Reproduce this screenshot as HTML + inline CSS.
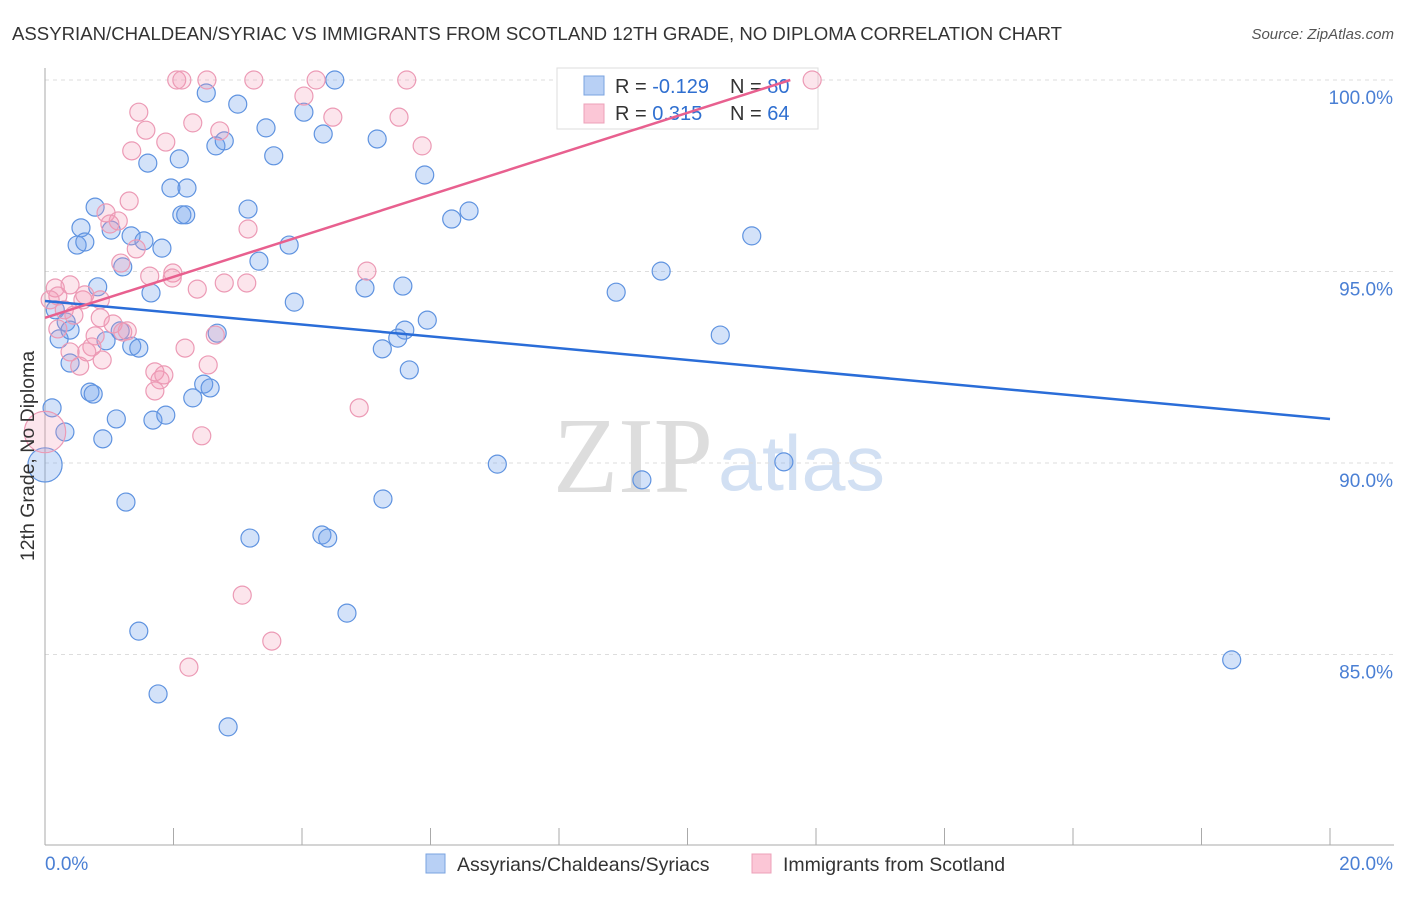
<!DOCTYPE html>
<html><head><meta charset="utf-8"><style>
body{margin:0;background:#fff;font-family:"Liberation Sans",sans-serif;}
</style></head><body>
<svg width="1406" height="892" xmlns="http://www.w3.org/2000/svg" font-family="Liberation Sans, sans-serif">
<text x="12" y="40" font-size="18.6" fill="#333">ASSYRIAN/CHALDEAN/SYRIAC VS IMMIGRANTS FROM SCOTLAND 12TH GRADE, NO DIPLOMA CORRELATION CHART</text>
<text x="1394" y="39" font-size="15" fill="#555" text-anchor="end" font-style="italic">Source: ZipAtlas.com</text>
<g>
<text x="553" y="492" font-size="108" fill="#ddd" font-family="Liberation Serif, serif" textLength="160" lengthAdjust="spacingAndGlyphs">ZIP</text>
<text x="718" y="490" font-size="78" fill="#d2e0f3" textLength="167" lengthAdjust="spacingAndGlyphs">atlas</text>
</g>
<g id="grid"></g>
<g id="axes"></g>
<g>
<rect x="557" y="68" width="261" height="61" fill="#fff" stroke="#ddd"/>
<rect x="584" y="76" width="20" height="19" fill="#b8d0f5" stroke="#7aa3e0"/>
<rect x="584" y="104" width="20" height="19" fill="#fbc6d6" stroke="#eda0b8"/>
<text x="615" y="93" font-size="20" fill="#333">R = <tspan fill="#2f6fd0">-0.129</tspan></text>
<text x="730" y="93" font-size="20" fill="#333">N = <tspan fill="#2f6fd0">80</tspan></text>
<text x="615" y="120" font-size="20" fill="#333">R =  <tspan fill="#2f6fd0"> 0.315</tspan></text>
<text x="730" y="120" font-size="20" fill="#333">N = <tspan fill="#2f6fd0">64</tspan></text>
</g>
<g id="pts"></g>
<g id="trends"></g>
<text transform="translate(34,456) rotate(-90)" font-size="19.5" fill="#333" text-anchor="middle">12th Grade, No Diploma</text>
<g>
<rect x="426" y="854" width="19" height="19" fill="#b8d0f5" stroke="#7aa3e0"/>
<text x="457" y="871" font-size="19.5" fill="#333">Assyrians/Chaldeans/Syriacs</text>
<rect x="752" y="854" width="19" height="19" fill="#fbc6d6" stroke="#eda0b8"/>
<text x="783" y="871" font-size="19.5" fill="#333">Immigrants from Scotland</text>
</g>
</svg>
<script>
const blueX=[4.51,2.51,3.00,2.66,2.79,3.44,3.56,4.33,5.17,4.03,1.60,2.09,1.96,2.21,2.13,2.19,3.16,0.78,0.56,1.03,1.34,1.54,0.50,0.62,1.82,3.80,3.33,1.21,0.82,1.65,0.16,0.22,0.33,0.39,1.17,1.35,1.46,0.95,2.68,3.88,4.98,5.57,5.60,5.49,5.95,5.25,5.67,5.91,6.33,6.60,0.39,0.70,0.11,0.31,1.11,1.68,1.88,0.90,2.30,2.47,2.57,0.00,1.26,5.26,3.19,4.31,4.40,4.70,1.46,1.76,2.85,7.04,9.29,11.50,8.89,9.59,10.51,11.00,18.47,0.75];
const blueY=[100.0,99.66,99.37,98.28,98.41,98.75,98.02,98.59,98.46,99.16,97.83,97.94,97.18,97.18,96.48,96.48,96.63,96.68,96.14,96.08,95.93,95.80,95.69,95.77,95.61,95.69,95.27,95.12,94.60,94.44,94.00,93.24,93.68,93.47,93.45,93.05,93.00,93.19,93.39,94.20,94.57,94.62,93.47,93.26,93.73,92.98,92.43,97.52,96.37,96.58,92.61,91.85,91.44,90.81,91.15,91.12,91.25,90.63,91.70,92.06,91.96,89.95,88.98,89.06,88.04,88.12,88.04,86.08,85.61,83.97,83.11,89.97,89.56,90.03,94.46,95.01,93.34,95.93,84.86,91.80];
const blueSize=blueX.map((v,i)=>i===61?1.9:1);
const pinkX=[2.05,2.13,2.52,3.25,4.22,5.63,11.94,4.03,4.48,5.51,5.87,1.46,1.57,1.35,1.88,2.30,2.72,1.31,1.14,0.95,1.01,1.42,1.18,1.63,1.99,1.98,2.37,2.79,3.14,3.16,5.01,0.16,0.20,0.39,0.30,0.45,0.59,0.86,1.06,0.78,0.73,1.21,1.28,0.65,0.54,0.39,0.20,0.89,2.18,2.54,2.65,1.79,1.71,1.85,1.71,2.44,4.89,3.07,3.53,2.24,0.00,0.08,0.62,0.86];
const pinkY=[100,100,100,100,100,100,100,99.58,99.03,99.03,98.28,99.16,98.69,98.15,98.38,98.88,98.67,96.84,96.32,96.53,96.24,95.59,95.22,94.88,94.96,94.83,94.54,94.70,94.70,96.11,95.01,94.57,94.36,94.65,94.00,93.86,94.26,94.26,93.63,93.32,93.03,93.42,93.45,92.90,92.53,92.90,93.50,92.69,93.00,92.56,93.34,92.17,92.38,92.30,91.88,90.71,91.44,86.55,85.35,84.67,90.81,94.26,94.39,93.79];
const pinkSize=pinkX.map((v,i)=>i===60?2.3:1);
const yTicks=[100,95,90,85];
const yTickLabels=["100.0%","95.0%","90.0%","85.0%"];
const xTicks=[0,2,4,6,8,10,12,14,16,18,20];
const blueTrend=[[0,94.23],[20,91.15]];
const pinkTrend=[[0,93.79],[11.6,100]];
const X0=45,X1=1330,Yp100=80,pxPer=38.3;
const sx=v=>X0+(X1-X0)*v/20;
const sy=v=>Yp100+(100-v)*pxPer;
const NS="http://www.w3.org/2000/svg";
function mk(tag,attrs,parent){const e=document.createElementNS(NS,tag);for(const k in attrs)e.setAttribute(k,attrs[k]);parent.appendChild(e);return e;}
const grid=document.getElementById('grid'),axes=document.getElementById('axes');
yTicks.forEach((t,i)=>{
 const g=mk('line',{x1:X0,x2:1394,y1:sy(t),y2:sy(t),stroke:'#ddd','stroke-dasharray':'4,4'},grid);
 
 
 const tx=mk('text',{x:1393,y:sy(t)+24,'font-size':19,fill:'#4a7fd4','text-anchor':'end'},axes);
 tx.textContent=yTickLabels[i];
 
 
});
mk('line',{x1:X0,x2:X0,y1:68,y2:845,stroke:'#aaa'},axes);
mk('line',{x1:X0,x2:1394,y1:845,y2:845,stroke:'#aaa'},axes);
xTicks.forEach(t=>{const l=mk('line',{x1:sx(t),x2:sx(t),y1:828,y2:845,stroke:'#aaa'},axes);
 
 });
const xl0=mk('text',{x:45,y:870,'font-size':19,fill:'#4a7fd4'},axes);xl0.textContent="0.0%";


const xl1=mk('text',{x:1393,y:870,'font-size':19,fill:'#4a7fd4','text-anchor':'end'},axes);xl1.textContent="20.0%";


const pts=document.getElementById('pts');
blueX.forEach((x,i)=>{const c=mk('circle',{cx:sx(x),cy:sy(blueY[i]),r:9*blueSize[i],fill:'rgba(110,160,235,0.3)',stroke:'#5f93e0','stroke-width':1.2},pts);
 
 });
pinkX.forEach((x,i)=>{const c=mk('circle',{cx:sx(x),cy:sy(pinkY[i]),r:9*pinkSize[i],fill:'rgba(245,150,180,0.25)',stroke:'#ec9ab5','stroke-width':1.2},pts);
 
 });
const tr=document.getElementById('trends');
const bl=mk('line',{x1:sx(blueTrend[0][0]),y1:sy(blueTrend[0][1]),x2:sx(blueTrend[1][0]),y2:sy(blueTrend[1][1]),stroke:'#2a6dd8','stroke-width':2.5},tr);


const pl=mk('line',{x1:sx(pinkTrend[0][0]),y1:sy(pinkTrend[0][1]),x2:sx(pinkTrend[1][0]),y2:sy(pinkTrend[1][1]),stroke:'#e8608f','stroke-width':2.5},tr);


</script>
</body></html>
